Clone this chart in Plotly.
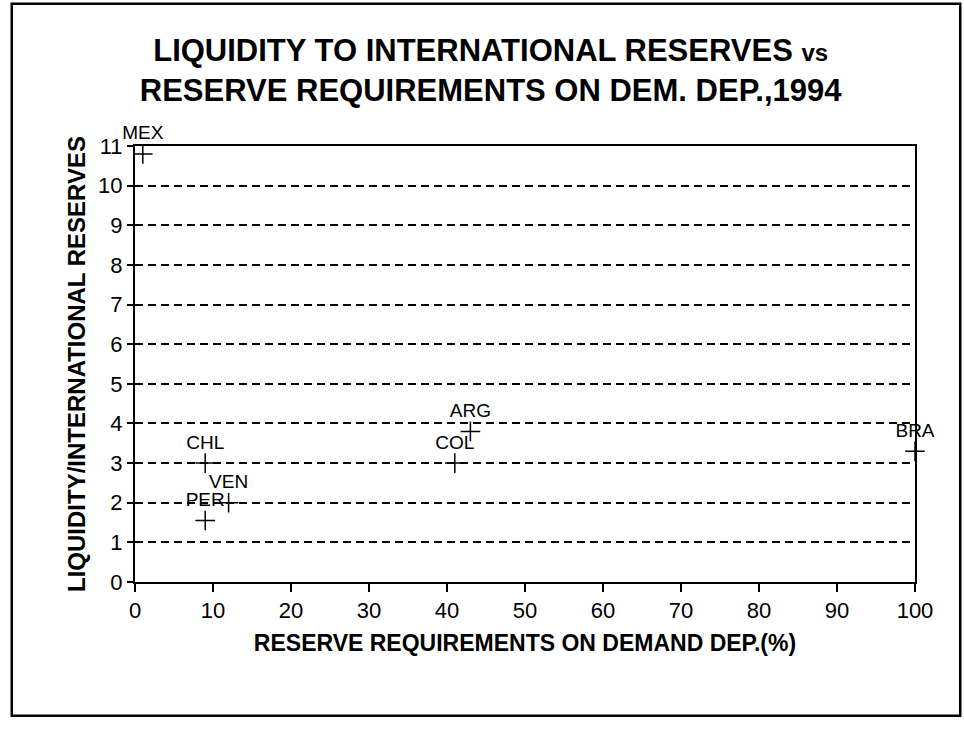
import plotly.graph_objects as go

# Country codes and their values
countries = ["MEX", "CHL", "VEN", "PER", "ARG", "COL", "BRA"]
reserve_req = [1, 9, 12, 9, 43, 41, 100]          # reserve requirements on demand deposits, %
liquidity_ratio = [10.8, 3.0, 2.0, 1.55, 3.8, 3.0, 3.3]  # liquidity / international reserves

x_ticks = list(range(0, 101, 10))
y_ticks = list(range(0, 12))

FONT = "Liberation Sans, Arial, sans-serif"

fig = go.Figure()
fig.add_trace(go.Scatter(
    x=reserve_req,
    y=liquidity_ratio,
    mode="markers+text",
    text=countries,
    textposition="top center",
    textfont=dict(family=FONT, size=19, color="black"),
    marker=dict(symbol="cross-thin", size=14, line=dict(color="black", width=1.5)),
    cliponaxis=False,
    showlegend=False,
))

fig.update_layout(
    width=964,
    height=740,
    paper_bgcolor="white",
    plot_bgcolor="white",
    margin=dict(l=135, r=49, t=146, b=158),
    title=dict(
        text="<b>LIQUIDITY TO INTERNATIONAL RESERVES <span style='font-size:24px'>vs</span><br>"
             "RESERVE REQUIREMENTS ON DEM. DEP.,1994</b>",
        x=0.509, xanchor="center",
        y=0.918, yanchor="top",
        font=dict(family=FONT, size=31, color="black"),
    ),
    xaxis=dict(
        range=[0, 100],
        tickvals=x_ticks,
        showgrid=False,
        zeroline=False,
        showline=True, linecolor="black", linewidth=2, mirror=True,
        ticks="outside", ticklen=8, tickcolor="black", tickwidth=1.5,
        tickfont=dict(family=FONT, size=22, color="black"),
        title=dict(text="<b>RESERVE REQUIREMENTS ON DEMAND DEP.(%)</b>",
                   font=dict(family=FONT, size=23, color="black"), standoff=12),
    ),
    yaxis=dict(
        range=[0, 11],
        tickvals=y_ticks,
        showgrid=True, gridcolor="black", gridwidth=1.5, griddash="8px,5px",
        zeroline=False,
        showline=True, linecolor="black", linewidth=2, mirror=True,
        ticks="outside", ticklen=6, tickcolor="black", tickwidth=1.5,
        tickfont=dict(family=FONT, size=22, color="black"),
        title=dict(text="<b>LIQUIDITY/INTERNATIONAL RESERVES</b>",
                   font=dict(family=FONT, size=24, color="black"), standoff=6),
    ),
)

# Outer frame around the whole chart
fig.add_shape(type="rect", xref="paper", yref="paper",
              x0=-0.158, x1=1.058, y0=-0.307, y1=1.326,
              line=dict(color="black", width=2.5))

fig.write_html("out.html")
